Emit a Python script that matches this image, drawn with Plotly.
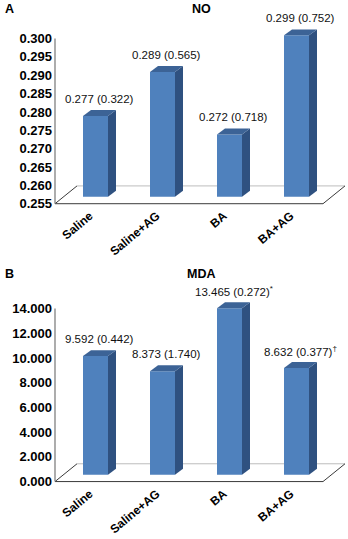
import plotly.graph_objects as go

# ---- data ----
categories = ["Saline", "Saline+AG", "BA", "BA+AG"]
no_values = [0.277, 0.289, 0.272, 0.299]
no_labels = ["0.277 (0.322)", "0.289 (0.565)", "0.272 (0.718)", "0.299 (0.752)"]
mda_values = [9.592, 8.373, 13.465, 8.632]
mda_labels = ["9.592 (0.442)", "8.373 (1.740)", "13.465 (0.272)<sup>*</sup>", "8.632 (0.377)<sup>†</sup>"]
no_ticks = [0.255, 0.260, 0.265, 0.270, 0.275, 0.280, 0.285, 0.290, 0.295, 0.300]
no_ticktext = ["0.255", "0.260", "0.265", "0.270", "0.275", "0.280", "0.285", "0.290", "0.295", "0.300"]
mda_ticks = [0, 2, 4, 6, 8, 10, 12, 14]
mda_ticktext = ["0.000", "2.000", "4.000", "6.000", "8.000", "10.000", "12.000", "14.000"]

# ---- geometry / style (pixels) ----
W, H = 348, 539
PX_X = 67.0                    # px per category unit
LEFT_PX, RIGHT_PX = 53, 347
FLOOR_DX, FLOOR_DY = 22, 18    # floor depth offset (px)
BAR_SX, BAR_SY = 7, 7          # bar front plane offset from floor front (px)
BAR_DX, BAR_DY = 8, 6          # bar depth (px)
BAR_W = 25                     # bar front width (px)
PAD_BOTTOM = 2                 # px below floor front inside plot area
FRONT, SIDE, TOP = "#4F81BD", "#2F5180", "#3C6396"
FONT = "Liberation Sans, Arial, sans-serif"

fig = go.Figure()

panels = [
    dict(vals=no_values, labels=no_labels, ticks=no_ticks, ticktext=no_ticktext,
         ymin=0.255, ytop=0.300, bottom_px=206, top_px=25, k=167 / 0.045,
         xa="x", ya="y", title="NO", letter="A", title_px=9),
    dict(vals=mda_values, labels=mda_labels, ticks=mda_ticks, ticktext=mda_ticktext,
         ymin=0.0, ytop=14.0, bottom_px=487, top_px=295, k=175 / 14.0,
         xa="x2", ya="y2", title="MDA", letter="B", title_px=277),
]

xmin = -0.5 - (55 - LEFT_PX) / PX_X
xmax = xmin + (RIGHT_PX - LEFT_PX) / PX_X
annotations = []


def poly(xs, ys, color, xa, ya):
    fig.add_trace(go.Scatter(x=xs, y=ys, fill="toself", fillcolor=color,
                             line=dict(width=0), mode="lines",
                             xaxis=xa, yaxis=ya, hoverinfo="skip", showlegend=False))


for p in panels:
    k = p["k"]
    ymin = p["ymin"]
    xa, ya = p["xa"], p["ya"]
    p["ylo"] = ymin - PAD_BOTTOM / k
    p["yhi"] = ymin + (p["bottom_px"] - p["top_px"]) / k
    fdx, fdy = FLOOR_DX / PX_X, FLOOR_DY / k
    sx, sy = BAR_SX / PX_X, BAR_SY / k
    bdx, bdy = BAR_DX / PX_X, BAR_DY / k
    bw = BAR_W / PX_X

    # floor back edge (behind bars)
    fig.add_trace(go.Scatter(x=[-0.5 + fdx, 3.5 + fdx], y=[ymin + fdy, ymin + fdy],
                             mode="lines", line=dict(color="#BDBDBD", width=1),
                             xaxis=xa, yaxis=ya, hoverinfo="skip", showlegend=False))

    for i, (v, lab) in enumerate(zip(p["vals"], p["labels"])):
        xc = i + sx
        xl, xr = xc - bw / 2, xc + bw / 2
        b, t = ymin + sy, v + sy
        poly([xl, xr, xr, xl, xl], [b, b, t, t, b], FRONT, xa, ya)
        poly([xr, xr + bdx, xr + bdx, xr, xr], [b, b + bdy, t + bdy, t, b], SIDE, xa, ya)
        poly([xl, xl + bdx, xr + bdx, xr, xl], [t, t + bdy, t + bdy, t, t], TOP, xa, ya)
        annotations.append(dict(x=xc + bdx / 2, y=t + bdy, xref=xa, yref=ya, text=lab,
                                showarrow=False, yanchor="middle", yshift=11,
                                font=dict(size=11.5, color="#111", family=FONT)))

    # floor front and side edges
    fig.add_trace(go.Scatter(x=[-0.5 + fdx, -0.5, 3.5, 3.5 + fdx],
                             y=[ymin + fdy, ymin, ymin, ymin + fdy],
                             mode="lines", line=dict(color="#3A3A3A", width=1),
                             xaxis=xa, yaxis=ya, hoverinfo="skip", showlegend=False))
    # y axis line
    fig.add_trace(go.Scatter(x=[-0.5, -0.5], y=[ymin, p["ytop"]], mode="lines",
                             line=dict(color="#808080", width=1.3),
                             xaxis=xa, yaxis=ya, hoverinfo="skip", showlegend=False))

    annotations.append(dict(x=3 / W, y=1 - p["title_px"] / H, xref="paper", yref="paper",
                            text="<b>" + p["letter"] + "</b>", showarrow=False,
                            xanchor="left", yanchor="middle",
                            font=dict(size=12.5, color="#000", family=FONT)))
    annotations.append(dict(x=201 / W, y=1 - p["title_px"] / H, xref="paper", yref="paper",
                            text="<b>" + p["title"] + "</b>", showarrow=False,
                            xanchor="center", yanchor="middle",
                            font=dict(size=12.5, color="#000", family=FONT)))

xdom = [LEFT_PX / W, RIGHT_PX / W]
common_x = dict(range=[xmin, xmax], domain=xdom, showgrid=False, zeroline=False,
                showline=False, ticks="", tickangle=-40,
                tickvals=[i + 0.02 for i in range(4)], ticktext=categories,
                tickfont=dict(size=12, color="#000", family=FONT, weight="bold"))
ytick_font = dict(size=13, color="#000", family=FONT, weight="bold")
pa, pb = panels
fig.update_layout(
    width=W, height=H, margin=dict(l=0, r=0, t=0, b=0),
    paper_bgcolor="white", plot_bgcolor="white",
    xaxis=dict(**common_x, anchor="y"),
    xaxis2=dict(**common_x, anchor="y2"),
    yaxis=dict(range=[pa["ylo"], pa["yhi"]],
               domain=[1 - (pa["bottom_px"] + PAD_BOTTOM) / H, 1 - pa["top_px"] / H],
               tickvals=no_ticks, ticktext=no_ticktext,
               showgrid=False, zeroline=False, showline=False, ticks="", anchor="x",
               tickfont=ytick_font),
    yaxis2=dict(range=[pb["ylo"], pb["yhi"]],
                domain=[1 - (pb["bottom_px"] + PAD_BOTTOM) / H, 1 - pb["top_px"] / H],
                tickvals=mda_ticks, ticktext=mda_ticktext,
                showgrid=False, zeroline=False, showline=False, ticks="", anchor="x2",
                tickfont=ytick_font),
    annotations=annotations,
)

fig.write_html("out.html", config={"displayModeBar": False, "staticPlot": True},
               post_script="document.body.style.margin='0';document.body.style.overflow='hidden';")
